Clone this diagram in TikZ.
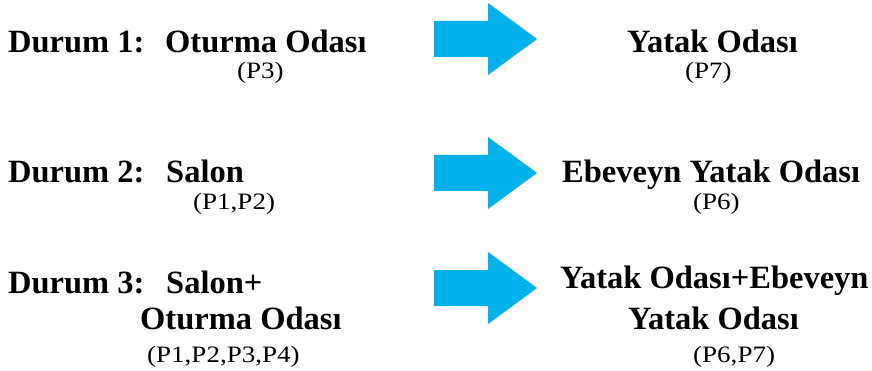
\documentclass[tikz,border=0pt]{standalone}
\usepackage{fontspec}
\setmainfont{Liberation Serif}
\newfontfamily\codefont[FakeStretch=1.15]{Liberation Serif}
\definecolor{arrowcyan}{RGB}{0,178,235}
\tikzset{
  heading/.style={anchor=base west, inner sep=0pt, font=\fontsize{32.5}{36}\selectfont\bfseries},
  plabel/.style={anchor=base west, inner sep=0pt, font=\fontsize{23.5}{26}\selectfont\codefont},
  flowarrow/.pic={
    \fill[arrowcyan] (0,-18) -- (54,-18) -- (54,-36) -- (103,0) -- (54,36)
      -- (54,18) -- (0,18) -- cycle;
  },
}
\begin{document}
\begin{tikzpicture}[x=1pt,y=-1pt]
\useasboundingbox (0,0) rectangle (872,371);

% Case 1
\node[heading] (d1) at (8,53) {Durum 1:};
\node[heading] (s1) at (165,53) {Oturma Odası};
\node[plabel]  (p1) at (237,79) {(P3)};
\pic at (434,39) {flowarrow};
\node[heading] (t1) at (627,53) {Yatak Odası};
\node[plabel]  (q1) at (685,79) {(P7)};

% Case 2
\node[heading] (d2) at (8,183) {Durum 2:};
\node[heading] (s2) at (166,183) {Salon};
\node[plabel]  (p2) at (193,210) {(P1,P2)};
\pic at (434,173) {flowarrow};
\node[heading] (t2) at (562,183) {Ebeveyn Yatak Odası};
\node[plabel]  (q2) at (693,210) {(P6)};

% Case 3
\node[heading] (d3) at (8,293) {Durum 3:};
\node[heading] (s3) at (166,293) {Salon+};
\node[heading] (s3b) at (140,329) {Oturma Odası};
\node[plabel]  (p3) at (147,362) {(P1,P2,P3,P4)};
\pic at (434,288) {flowarrow};
\node[heading] (t3) at (560,288) {Yatak Odası+Ebeveyn};
\node[heading] (t3b) at (628,329) {Yatak Odası};
\node[plabel]  (q3) at (693,362) {(P6,P7)};
\end{tikzpicture}
\end{document}
